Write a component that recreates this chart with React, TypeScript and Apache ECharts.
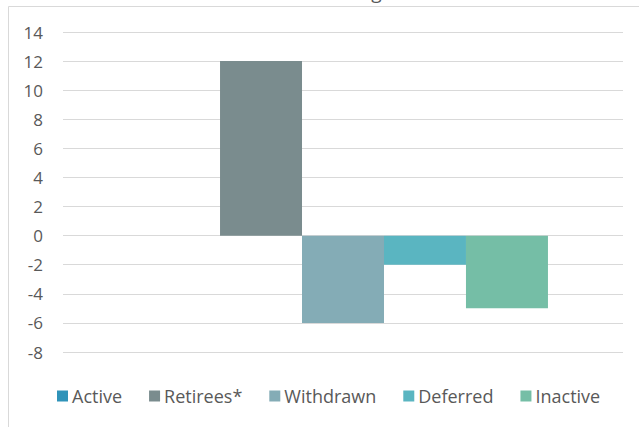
import React, { useEffect, useRef } from "react";
import * as echarts from "echarts";

const categories = [""];
const seriesNames = ["Active", "Retirees*", "Withdrawn", "Deferred", "Inactive"];
const seriesValues = [0, 12, -6, -2, -5];
const seriesColors = ["#2f93b9", "#7a8c8e", "#84acb6", "#5ab5c1", "#75bea6"];
const titleText = "Net Changes";

export default function App() {
  const ref = useRef<HTMLDivElement>(null);
  useEffect(() => {
    if (!ref.current) return;
    const chart = echarts.init(ref.current, null, { renderer: "svg" });
    chart.setOption({
      animation: false,
      backgroundColor: "#ffffff",
      graphic: [
        {
          type: "rect",
          shape: { x: 8.5, y: 6.5, width: 700, height: 500 },
          style: { fill: "none", stroke: "#d9d9d9", lineWidth: 1 },
          silent: true,
          z: -10,
        },
        {
          type: "text",
          x: 345,
          y: 1,
          style: {
            text: titleText,
            textAlign: "center",
            textVerticalAlign: "bottom",
            fontFamily: "Open Sans",
            fontSize: 19,
            fill: "#595959",
          },
          silent: true,
        },
      ],
      grid: { left: 63, right: 16, top: 32, bottom: 75, containLabel: false },
      legend: {
        bottom: 17,
        left: 52,
        itemWidth: 11,
        itemHeight: 11,
        itemGap: 27,
        icon: "rect",
        textStyle: { fontFamily: "Open Sans", fontSize: 18, color: "#595959", padding: [0, 0, 0, -1] },
        data: seriesNames,
      },
      xAxis: {
        type: "category",
        data: categories,
        axisLine: { show: false },
        axisTick: { show: false },
        axisLabel: { show: false },
      },
      yAxis: {
        type: "value",
        min: -8,
        max: 14,
        interval: 2,
        axisLine: { show: false },
        axisTick: { show: false },
        axisLabel: { fontFamily: "Open Sans", fontSize: 17, color: "#595959", margin: 20 },
        splitLine: { lineStyle: { color: "#d9d9d9", width: 1 } },
      },
      series: seriesNames.map((name, i) => ({
        name,
        type: "bar",
        data: [seriesValues[i]],
        barGap: "0%",
        barCategoryGap: "26.8%",
        itemStyle: { color: seriesColors[i] },
      })),
    });
    return () => chart.dispose();
  }, []);
  return (
    <div
      ref={ref}
      style={{ position: "fixed", left: 0, top: 0, width: 639, height: 427 }}
    />
  );
}
